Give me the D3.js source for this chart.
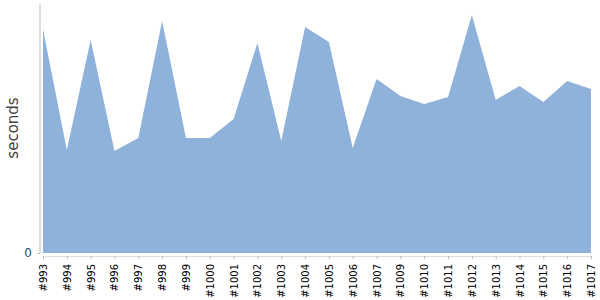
<!DOCTYPE html>
<html>
<head>
<meta charset="utf-8">
<script src="https://cdn.jsdelivr.net/npm/d3@7"></script>
<style>
  body { margin: 0; background: #fff; }
  text { font-family: "DejaVu Sans", sans-serif; }
</style>
</head>
<body>
<div id="chart"></div>
<script>
// builds and timings
var builds = ["#993", "#994", "#995", "#996", "#997", "#998", "#999", "#1000", "#1001", "#1002", "#1003",
  "#1004", "#1005", "#1006", "#1007", "#1009", "#1010", "#1011", "#1012", "#1013", "#1014", "#1015", "#1016", "#1017"];
var seconds = [224, 103, 213, 102, 115, 232, 115, 115, 134, 210, 112,
  226, 211, 105, 174, 157, 149, 156, 238, 153, 167, 151, 172, 164];
var yTicks = [0];

var svgWidth = 600, svgHeight = 300;
var margin = { top: 4, right: 9, bottom: 47, left: 43 };
var width = svgWidth - margin.left - margin.right;
var height = svgHeight - margin.top - margin.bottom;

var svg = d3.select("#chart").append("svg")
  .attr("width", svgWidth)
  .attr("height", svgHeight);

var g = svg.append("g")
  .attr("transform", `translate(${margin.left}, ${margin.top})`);

var xScale = d3.scalePoint()
  .domain(builds)
  .range([0, width]);

var yScale = d3.scaleLinear()
  .domain([0, 249])
  .range([height, 0]);

// area
var area = d3.area()
  .x(function(d, i) { return xScale(builds[i]); })
  .y0(yScale(0))
  .y1(function(d) { return yScale(d); });

g.append("path")
  .datum(seconds)
  .attr("d", area)
  .attr("fill", "#8fb2da");

// y axis line
g.append("line")
  .attr("x1", -3).attr("x2", -3)
  .attr("y1", 0).attr("y2", height)
  .attr("stroke", "#bbb");

var yAxis = g.append("g")
  .attr("transform", "translate(-3,0)")
  .call(d3.axisLeft(yScale).tickValues(yTicks).tickSize(3).tickPadding(5));
yAxis.select(".domain").remove();
yAxis.selectAll("line").attr("stroke", "#bbb");
yAxis.selectAll("text").attr("fill", "#444").style("font-size", "12px");

// x axis
var xAxis = g.append("g")
  .attr("transform", `translate(0, ${height + 3})`)
  .call(d3.axisBottom(xScale).tickSize(3).tickSizeOuter(0));
xAxis.select(".domain").attr("stroke", "#ddd");
xAxis.selectAll("line").attr("stroke", "#bbb");
xAxis.selectAll("text")
  .attr("transform", "rotate(-90)")
  .attr("text-anchor", "end")
  .attr("x", -8)
  .attr("y", 0)
  .attr("dy", "0.35em")
  .attr("fill", "#000")
  .style("font-size", "10px");

// y label
svg.append("text")
  .attr("transform", `translate(18, 128) rotate(-90)`)
  .attr("text-anchor", "middle")
  .attr("fill", "#444")
  .style("font-size", "15px")
  .text("seconds");
</script>
</body>
</html>
